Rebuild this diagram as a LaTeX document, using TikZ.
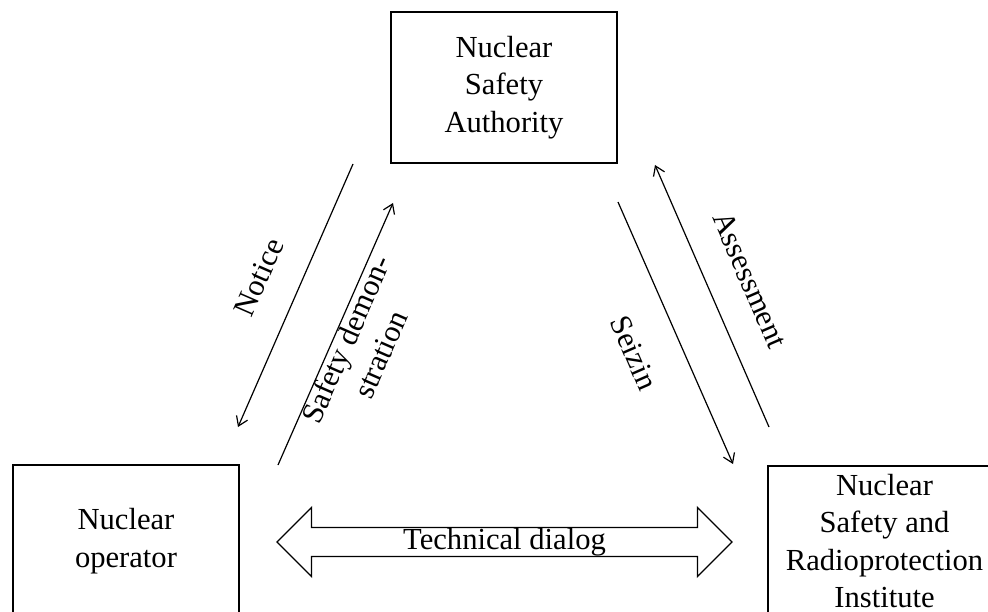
\documentclass[tikz,border=0pt]{standalone}
\usepackage{fontspec}
\setmainfont{Liberation Serif}
\usetikzlibrary{arrows.meta,shapes.arrows}
\begin{document}
\begin{tikzpicture}[x=1pt,y=-1pt,
  every node/.style={font=\fontsize{30.6pt}{37.5pt}\selectfont},
  actor/.style={draw,line width=1.3pt,align=center,inner sep=0pt},
  flow/.style={line width=1.2pt,-{Straight Barb[length=9pt,width=12pt,line width=1.2pt]}},
  lbl/.style={align=center,inner sep=0pt}]
\useasboundingbox (0,0) rectangle (988,612);
% actors
\node[actor,minimum width=226pt,minimum height=151pt] (nsa) at (504,87.5) {Nuclear\\Safety\\Authority};
\node[actor,minimum width=226pt,minimum height=152pt] (op) at (126,541) {Nuclear\\operator};
\node[actor,minimum width=233pt,minimum height=150pt] (irsn) at (884.5,541) {Nuclear\\Safety and\\Radioprotection\\Institute};
% free arrow ends
\coordinate (n1) at (353,164);  \coordinate (n2) at (238,427);
\coordinate (s1) at (278,465);  \coordinate (s2) at (393,203);
\coordinate (z1) at (618,202);  \coordinate (z2) at (733,464);
\coordinate (a1) at (769,427);  \coordinate (a2) at (655,165);
\draw[flow] (n1) -- (n2);
\draw[flow] (s1) -- (s2);
\draw[flow] (z1) -- (z2);
\draw[flow] (a1) -- (a2);
% labels
\node[lbl,rotate=66.4] (lnotice) at (259,277) {Notice};
\node[lbl,rotate=66.4] (lsafety) at (363,347) {Safety demon-\\stration};
\node[lbl,rotate=-66.5] (lseizin) at (634,353) {Seizin};
\node[lbl,rotate=-66.5] (lassess) at (750,280) {Assessment};
% technical dialog
\node[draw,line width=1.3pt,double arrow,double arrow head extend=20pt,
      minimum height=455pt,minimum width=38pt,inner sep=0pt,
      double arrow tip angle=90] (dlg) at (504.5,542) {Technical dialog};
\end{tikzpicture}
\end{document}
